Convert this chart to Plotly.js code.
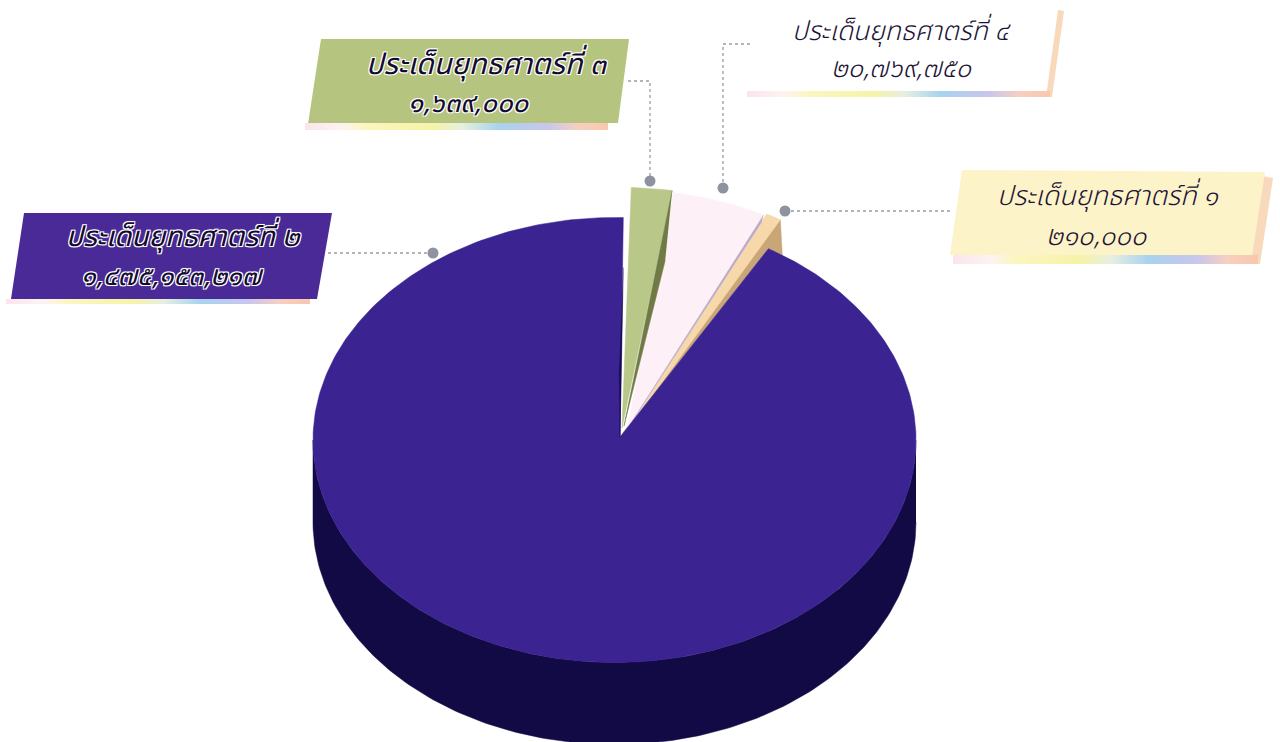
<!DOCTYPE html>
<html><head><meta charset="utf-8">
<script src="https://cdn.plot.ly/plotly-3.0.1.min.js"></script>
<style>html,body{margin:0;padding:0;background:#fff}#c{width:1280px;height:742px}</style>
</head><body><div id="c"></div>
<script>
// Data
const categories = ['ประเด็นยุทธศาตร์ที่ ๑','ประเด็นยุทธศาตร์ที่ ๒','ประเด็นยุทธศาตร์ที่ ๓','ประเด็นยุทธศาตร์ที่ ๔'];
const valueLabels = ['๒๑๐,๐๐๐','๑,๔๗๕,๑๕๓,๒๑๗','๑,๖๓๙,๐๐๐','๒๐,๗๖๙,๗๕๐'];
// Drawn share of the disc for each slice, in percent (as pictured, not to scale with the labels)
const sliceShare = [0.83, 91.94, 2.17, 5.06];
const sliceColors = ['#f6d8aa','#3b2391','#b9c788','#fdf0f6'];

// Styling and layout
const rotation = 27.7, cx = 614.5, cy = 440, rx = 301.5, ry = 222.5, depth = 82;
const arcShift = [[12,-29],[0,0],[8,-30],[9,-28]];
const apex = [[625,435],[620,437],[622,428],[627,430]];
const textFont = '"Noto Sans Thai","Noto Sans","Noto Sans CJK SC",Lato,sans-serif';

const rad = d => d*Math.PI/180;
const pt = (t,o,dy=0) => [cx+o[0]+rx*Math.sin(rad(t)), cy+o[1]+dy-ry*Math.cos(rad(t))];
function arc(a,b,o,dy){const n=Math.max(2,Math.ceil(Math.abs(b-a)));const r=[];
  for(let i=0;i<=n;i++) r.push(pt(a+(b-a)*i/n,o,dy)); return r;}
const poly=(pts,color,extra={})=>Object.assign({type:'scatter',mode:'lines',x:pts.map(p=>p[0]),y:pts.map(p=>p[1]),
  fill:'toself',fillcolor:color,line:{color:color,width:0.5},hoverinfo:'skip',showlegend:false},extra);

// slice angle spans accumulate from the shares
let acc = rotation; const spans = sliceShare.map(s=>{const a=acc; acc+=s*3.6; return [a,acc];});

const traces = [];
// side wall of the big slice
const wall = [...arc(90,270,[0,0],depth), ...arc(270,90,[0,0],0)];
traces.push(poly(wall,'#120a45'));
// tan slice: shaded side runs along the big slice's cut edge
const tanEnd = pt(spans[0][1],arcShift[0]);
const purpleEdge = pt(spans[1][0],arcShift[1]);
traces.push(poly([apex[1],[tanEnd[0]-6,tanEnd[1]+6],tanEnd,[tanEnd[0]+2,tanEnd[1]+37],purpleEdge],'#c9a678'));
// top faces
[0,2,3].forEach(i=>{
  const a = i===0 ? [apex[i][0]-2,apex[i][1]+1] : apex[i];
  traces.push(poly([a,...arc(spans[i][0],spans[i][1],arcShift[i]),a],sliceColors[i],{name:categories[i]}));
});
// thin lit / shaded edges on the raised slices
const gEnd = pt(spans[2][1],arcShift[2]);
traces.push(poly([gEnd,[apex[2][0]+2,apex[2][1]-2],[gEnd[0]-7,gEnd[1]+70]],'#6f7a45'));
const pEnd = pt(spans[3][1],arcShift[3]);
traces.push(poly([pEnd,[apex[3][0]-1,apex[3][1]+1],[pEnd[0]-2,pEnd[1]+7]],'#b9a8cc'));
// big slice, starts at its far edge and runs the long way round
traces.push(poly([apex[1],...arc(spans[1][0],spans[1][1],arcShift[1]),apex[1]],sliceColors[1],{name:categories[1]}));
// shadow on the cut face at the top of the big slice
const pStart = pt(spans[1][1],arcShift[1]);
traces.push(poly([[pStart[0],pStart[1]+50],apex[1],[pStart[0]-4,pStart[1]+150]],'#170c52'));

// connectors
const conn = [ [[785,950],[211,211]], [[328,433],[253,253]], [[628,650,650],[81,81,181]], [[750,723,723],[44,44,188]] ];
conn.forEach(c=>traces.push({type:'scatter',mode:'lines',x:c[0],y:c[1],line:{color:'#9a9ca6',width:1.3,dash:'dot'},hoverinfo:'skip',showlegend:false}));
traces.push({type:'scatter',mode:'markers',x:[785,433,650,723],y:[211,253,181,188],
  marker:{color:'#8f929f',size:11},hoverinfo:'skip',showlegend:false});

// rainbow strips under the label plates
const rainbowScale = [[0,'#fbe4ea'],[0.12,'#fdf3f3'],[0.2,'#fbf6c0'],[0.42,'#f5f3a8'],[0.52,'#e6efe0'],[0.64,'#a9d2ee'],[0.8,'#c9c6ec'],[0.9,'#f7cfc0'],[1,'#f8c8ac']];
function strip(x0,x1,y0,y1){return {type:'scatter',mode:'lines',x:[x0,x1,x1,x0,x0],y:[y0,y0,y1,y1,y0],
  fill:'toself',fillgradient:{type:'horizontal',colorscale:rainbowScale},line:{width:0},hoverinfo:'skip',showlegend:false};}
traces.unshift(strip(6,310,299,304),strip(305,608,123,130),strip(747,1050,91,97),strip(953,1258,255,264));

// label plates
const path=(d,c)=>({type:'path',layer:'below',xref:'x',yref:'y',path:d,fillcolor:c,line:{width:0}});
const shapes = [
  path('M24,213 L332,213 L317,299 L11,299 Z','#4a2a97'),
  path('M321,39 L629,39 L618,123 L308,124 Z','#b5c47f'),
  path('M1058,10 L1064,11 L1052,97 L1046,97 Z','#f8d9bc'),
  path('M1262,176 L1273,178 L1260,264 L1250,262 Z','#f8d9bc'),
  path('M962,170 L1265,172 L1252,256 L950,255 Z','#fdf3c8'),
];

// label text
const halo = '-1px -1px 0 #fff,1px -1px 0 #fff,-1px 1px 0 #fff,1px 1px 0 #fff,0 0 2px #fff';
const nameAt = [[1108,196],[183,237],[487,65],[902,32]];
const valAt  = [[1097,236],[172,276],[469,103],[901,68]];
const nameSize = [27,28,29,26.5];
const valSize  = [27.5,27,27.5,27];
const annotations = [];
categories.forEach((c,i)=>{
  const onDark = (i===1||i===2);
  const f={family:textFont,weight:onDark?400:300,color:onDark?'#140c30':'#1d1436',style:'italic',shadow:onDark?halo:'none'};
  annotations.push({xref:'x',yref:'y',x:nameAt[i][0],y:nameAt[i][1],text:c,showarrow:false,font:Object.assign({},f,{size:nameSize[i]})});
  annotations.push({xref:'x',yref:'y',x:valAt[i][0],y:valAt[i][1],text:valueLabels[i],showarrow:false,font:Object.assign({},f,{size:valSize[i]})});
});

const hidden = r=>({range:r,visible:false,fixedrange:true});
Plotly.newPlot('c',traces,{width:1280,height:742,margin:{l:0,r:0,t:0,b:0},
  paper_bgcolor:'#fff',plot_bgcolor:'#fff',showlegend:false,
  xaxis:hidden([0,1280]),yaxis:hidden([742,0]),shapes,annotations},{displayModeBar:false,staticPlot:true});
</script></body></html>
